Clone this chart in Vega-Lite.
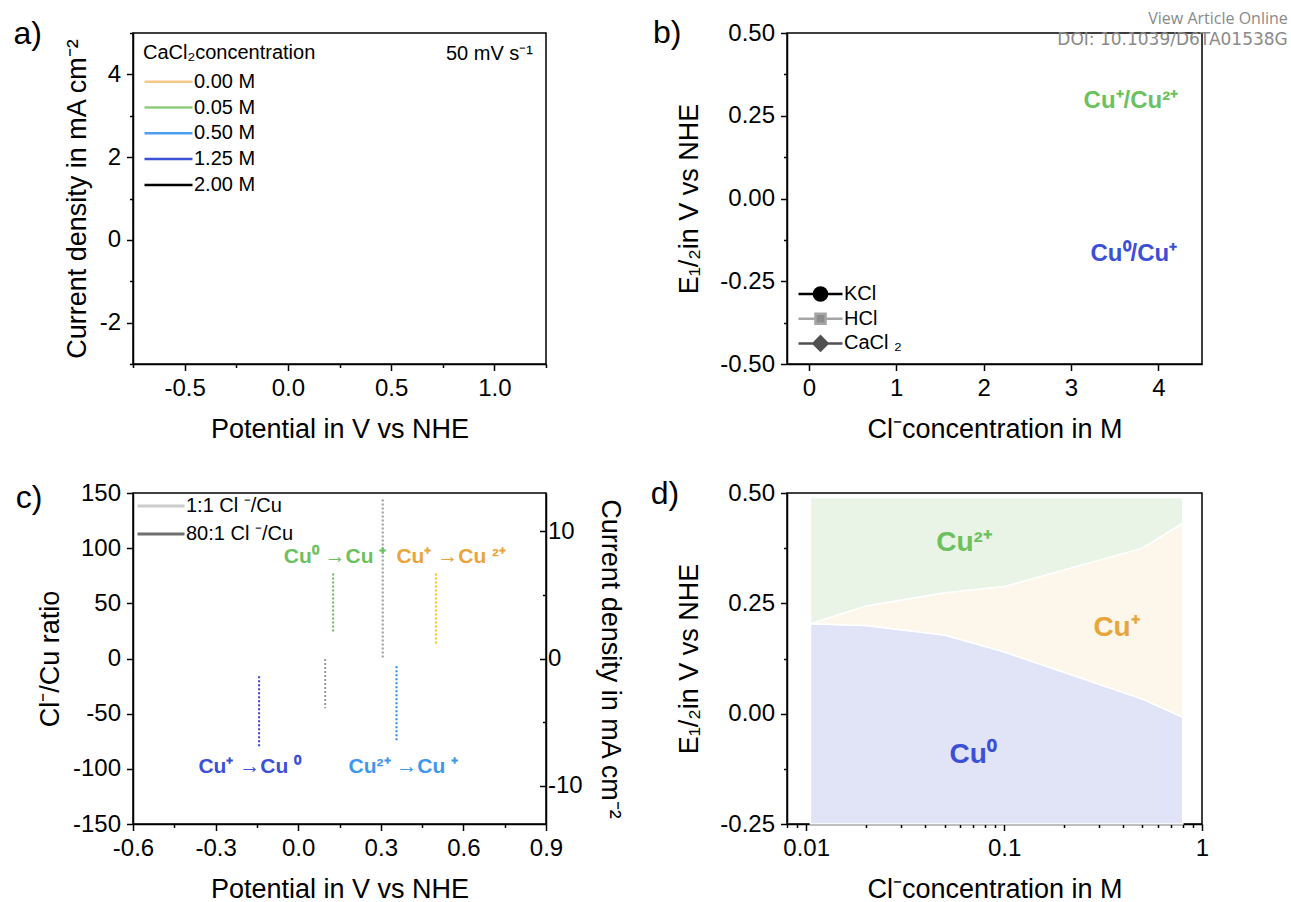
{
  "$schema": "https://vega.github.io/schema/vega-lite/v6.json",
  "background": "white",
  "padding": {"left": 12, "top": 10, "right": 2, "bottom": 2},
  "config": {
    "font": "Liberation Sans",
    "view": {"stroke": "black", "strokeWidth": 1.5},
    "axis": {
      "labelFont": "Liberation Sans", "labelFontSize": 24, "labelColor": "black",
      "titleFont": "Liberation Sans", "titleFontSize": 27, "titleFontWeight": "normal", "titleColor": "black",
      "domainColor": "black", "domainWidth": 1.5, "tickColor": "black", "tickWidth": 1.5,
      "grid": false, "labelFlush": false, "labelOverlap": false, "labelPadding": 6
    },
    "axisX": {"titlePadding": 16},
    "axisY": {"titlePadding": 8},
    "legend": {
      "labelFont": "Liberation Sans", "labelFontSize": 20, "labelColor": "black",
      "titleFont": "Liberation Sans", "titleFontSize": 20, "titleFontWeight": "normal", "titleColor": "black",
      "padding": 0, "labelOffset": 0
    }
  },
  "resolve": {
    "scale": {"color": "independent", "fill": "independent", "stroke": "independent", "shape": "independent"},
    "legend": {"color": "independent", "fill": "independent", "stroke": "independent", "shape": "independent"}
  },
  "columns": 2,
  "spacing": {"row": 129, "column": 241},
  "bounds": "flush",
  "align": "each",
  "concat": [
    {
      "width": 413, "height": 331,
      "layer": [
        {
          "data": {"values": []},
          "mark": {"type": "line", "strokeWidth": 2.5},
          "encoding": {
            "x": {"field": "potential", "type": "quantitative",
              "scale": {"domain": [-0.75, 1.25], "nice": false, "zero": false},
              "axis": {"title": "Potential in V vs NHE", "format": ".1f",
                "values": [-0.75, -0.5, -0.25, 0, 0.25, 0.5, 0.75, 1, 1.25],
                "labelExpr": "indexof([-0.5,0,0.5,1], datum.value) >= 0 ? replace(datum.label, '−', '-') : ''",
                "tickSize": {"condition": {"test": "indexof([-0.5,0,0.5,1], datum.value) >= 0", "value": 6.5}, "value": 3.5}}},
            "y": {"field": "current", "type": "quantitative",
              "scale": {"domain": [-3, 5], "nice": false, "zero": false},
              "axis": {"title": "Current density in mA cm⁻²", "format": "d",
                "values": [-3, -2, -1, 0, 1, 2, 3, 4, 5],
                "labelExpr": "indexof([-2,0,2,4], datum.value) >= 0 ? replace(datum.label, '−', '-') : ''",
                "tickSize": {"condition": {"test": "indexof([-2,0,2,4], datum.value) >= 0", "value": 6.5}, "value": 3.5}}},
            "color": {"field": "concentration", "type": "nominal",
              "scale": {"domain": ["0.00 M", "0.05 M", "0.50 M", "1.25 M", "2.00 M"],
                        "range": ["#f5c888", "#8fcd7e", "#4da0ef", "#3a50d5", "#000000"]},
              "legend": {"title": "CaCl₂concentration", "orient": "none", "legendX": 10, "legendY": 10,
                "direction": "vertical", "symbolType": "stroke", "symbolSize": 2304, "symbolStrokeWidth": 2.5,
                "clipHeight": 20, "rowPadding": 5.8, "titlePadding": 8.7, "labelOffset": 0}}
          }
        },
        {
          "data": {"values": [{}]},
          "mark": {"type": "text", "text": "50 mV s⁻¹", "align": "right", "baseline": "middle", "fontSize": 20, "color": "black"},
          "encoding": {"x": {"datum": 1.187}, "y": {"datum": 4.49}}
        },
        {
          "data": {"values": [{}]},
          "mark": {"type": "text", "text": "a)", "align": "left", "baseline": "middle", "fontSize": 32, "color": "black"},
          "encoding": {"x": {"datum": -1.3287}, "y": {"datum": 4.976}}
        }
      ]
    },
    {
      "width": 415, "height": 331,
      "layer": [
        {
          "data": {"values": []},
          "mark": {"type": "point", "opacity": 1, "strokeWidth": 2.5},
          "encoding": {
            "x": {"field": "chloride", "type": "quantitative",
              "scale": {"domain": [-0.25, 4.5], "nice": false, "zero": false},
              "axis": {"title": "Cl⁻concentration in M", "format": "d",
                "values": [0, 0.5, 1, 1.5, 2, 2.5, 3, 3.5, 4, 4.5],
                "labelExpr": "indexof([0,1,2,3,4], datum.value) >= 0 ? datum.label : ''",
                "tickSize": {"condition": {"test": "indexof([0,1,2,3,4], datum.value) >= 0", "value": 6.5}, "value": 3.5}}},
            "y": {"field": "E_half", "type": "quantitative",
              "scale": {"domain": [-0.5, 0.5], "nice": false, "zero": false},
              "axis": {"title": "E₁/₂in V vs NHE", "format": ".2f", "titlePadding": 16,
                "values": [-0.5, -0.375, -0.25, -0.125, 0, 0.125, 0.25, 0.375, 0.5],
                "labelExpr": "indexof([-0.5,-0.25,0,0.25,0.5], datum.value) >= 0 ? replace(datum.label, '−', '-') : ''",
                "tickSize": {"condition": {"test": "indexof([-0.5,-0.25,0,0.25,0.5], datum.value) >= 0", "value": 6.5}, "value": 3.5}}},
            "shape": {"field": "electrolyte", "type": "nominal",
              "scale": {"domain": ["KCl", "HCl", "CaCl ₂"],
                "range": ["M-1,0H-0.3M0.3,0H1M0.3,0A0.3,0.3,0,1,1,-0.3,0A0.3,0.3,0,1,1,0.3,0Z",
                          "M-1,0H-0.23M0.23,0H1M-0.23,-0.23H0.23V0.23H-0.23Z",
                          "M-1,0H-0.32M0.32,0H1M0,-0.32L0.32,0L0,0.32L-0.32,0Z"]},
              "legend": {"title": null, "orient": "none", "legendX": 10, "legendY": 251, "direction": "vertical",
                "symbolSize": 1936, "symbolStrokeWidth": 2.5, "clipHeight": 20, "rowPadding": 4.7, "labelOffset": 0}},
            "fill": {"field": "electrolyte", "type": "nominal",
              "scale": {"domain": ["KCl", "HCl", "CaCl ₂"], "range": ["#000000", "#8c8c8c", "#505050"]},
              "legend": {"title": null, "orient": "none", "legendX": 10, "legendY": 251, "direction": "vertical",
                "symbolSize": 1936, "symbolStrokeWidth": 2.5, "clipHeight": 20, "rowPadding": 4.7, "labelOffset": 0}},
            "stroke": {"field": "electrolyte", "type": "nominal",
              "scale": {"domain": ["KCl", "HCl", "CaCl ₂"], "range": ["#000000", "#a6a6a6", "#505050"]},
              "legend": {"title": null, "orient": "none", "legendX": 10, "legendY": 251, "direction": "vertical",
                "symbolSize": 1936, "symbolStrokeWidth": 2.5, "clipHeight": 20, "rowPadding": 4.7, "labelOffset": 0}}
          }
        },
        {
          "data": {"values": [
            {"couple": "Cu⁺/Cu²⁺", "chloride": 3.686, "E_half": 0.295},
            {"couple": "Cu⁰/Cu⁺", "chloride": 3.72, "E_half": -0.167}
          ]},
          "mark": {"type": "text", "fontSize": 24, "fontWeight": "bold", "align": "center", "baseline": "middle"},
          "encoding": {
            "x": {"field": "chloride", "type": "quantitative"},
            "y": {"field": "E_half", "type": "quantitative"},
            "text": {"field": "couple"},
            "color": {"field": "couple", "type": "nominal",
              "scale": {"domain": ["Cu⁺/Cu²⁺", "Cu⁰/Cu⁺"], "range": ["#6cc15f", "#3b4fd7"]}, "legend": null}
          }
        },
        {
          "data": {"values": [{}]},
          "mark": {"type": "text", "text": "b)", "align": "left", "baseline": "middle", "fontSize": 32, "color": "black"},
          "encoding": {"x": {"datum": -1.783}, "y": {"datum": 0.5}}
        },
        {
          "data": {"values": [{}]},
          "mark": {"type": "text", "text": "View Article Online", "align": "right", "baseline": "middle", "fontSize": 16, "font": "Open Sans", "color": "#8a8a8a"},
          "encoding": {"x": {"datum": 5.482}, "y": {"datum": 0.542}}
        },
        {
          "data": {"values": [{}]},
          "mark": {"type": "text", "text": "DOI: 10.1039/D6TA01538G", "align": "right", "baseline": "middle", "fontSize": 17, "font": "DejaVu Sans", "color": "#8a8a8a"},
          "encoding": {"x": {"datum": 5.482}, "y": {"datum": 0.479}}
        }
      ]
    },
    {
      "width": 413, "height": 331,
      "resolve": {"scale": {"y": "independent"}},
      "layer": [
        {
          "layer": [
            {
              "data": {"values": [
                {"peak": "Cu⁺ → Cu⁰", "potential": -0.142, "upper": -16, "lower": -80},
                {"peak": "1:1 reduction", "potential": 0.098, "upper": -0.5, "lower": -45},
                {"peak": "Cu⁰ → Cu⁺", "potential": 0.127, "upper": 77, "lower": 24},
                {"peak": "1:1 oxidation", "potential": 0.307, "upper": 144, "lower": 1},
                {"peak": "Cu²⁺ → Cu⁺", "potential": 0.357, "upper": -7, "lower": -76},
                {"peak": "Cu⁺ → Cu²⁺", "potential": 0.5, "upper": 77, "lower": 12}
              ]},
              "mark": {"type": "rule", "strokeDash": [2, 2], "strokeWidth": 2},
              "encoding": {
                "x": {"field": "potential", "type": "quantitative",
                  "scale": {"domain": [-0.6, 0.9], "nice": false, "zero": false},
                  "axis": {"title": "Potential in V vs NHE", "format": ".1f",
                    "values": [-0.6, -0.45, -0.3, -0.15, 0, 0.15, 0.3, 0.45, 0.6, 0.75, 0.9],
                    "labelExpr": "indexof([-0.6,-0.3,0,0.3,0.6,0.9], datum.value) >= 0 ? replace(datum.label, '−', '-') : ''",
                    "tickSize": {"condition": {"test": "indexof([-0.6,-0.3,0,0.3,0.6,0.9], datum.value) >= 0", "value": 6.5}, "value": 3.5}}},
                "y": {"field": "upper", "type": "quantitative",
                  "scale": {"domain": [-150, 150], "nice": false, "zero": false},
                  "axis": {"title": "Cl⁻/Cu ratio", "format": "d",
                    "values": [-150, -125, -100, -75, -50, -25, 0, 25, 50, 75, 100, 125, 150],
                    "labelExpr": "indexof([-150,-100,-50,0,50,100,150], datum.value) >= 0 ? replace(datum.label, '−', '-') : ''",
                    "tickSize": {"condition": {"test": "indexof([-150,-100,-50,0,50,100,150], datum.value) >= 0", "value": 6.5}, "value": 3.5}}},
                "y2": {"field": "lower"},
                "stroke": {"field": "peak", "type": "nominal",
                  "scale": {"domain": ["Cu⁺ → Cu⁰", "1:1 reduction", "Cu⁰ → Cu⁺", "1:1 oxidation", "Cu²⁺ → Cu⁺", "Cu⁺ → Cu²⁺"],
                            "range": ["#3142d8", "#9a9a9a", "#5dbb4d", "#9a9a9a", "#2f8de8", "#f5c400"]},
                  "legend": null}
              }
            },
            {
              "data": {"values": [
                {"transition": "Cu⁰ →Cu ⁺", "potential": 0.134, "upper": 92},
                {"transition": "Cu⁺ →Cu ²⁺", "potential": 0.556, "upper": 92},
                {"transition": "Cu⁺ →Cu ⁰", "potential": -0.176, "upper": -98},
                {"transition": "Cu²⁺ →Cu ⁺", "potential": 0.382, "upper": -98}
              ]},
              "mark": {"type": "text", "fontSize": 21, "fontWeight": "bold", "align": "center", "baseline": "middle"},
              "encoding": {
                "x": {"field": "potential", "type": "quantitative"},
                "y": {"field": "upper", "type": "quantitative"},
                "text": {"field": "transition"},
                "fill": {"field": "transition", "type": "nominal",
                  "scale": {"domain": ["Cu⁰ →Cu ⁺", "Cu⁺ →Cu ²⁺", "Cu⁺ →Cu ⁰", "Cu²⁺ →Cu ⁺"],
                            "range": ["#6cc15f", "#eba438", "#3b4fd7", "#3d97ee"]},
                  "legend": null}
              }
            },
            {
              "data": {"values": [{}]},
              "mark": {"type": "text", "text": "c)", "align": "left", "baseline": "middle", "fontSize": 32, "color": "black"},
              "encoding": {"x": {"datum": -1.0257}, "y": {"datum": 145.5}}
            }
          ]
        },
        {
          "data": {"values": []},
          "mark": {"type": "line", "strokeWidth": 3},
          "encoding": {
            "x": {"field": "potential", "type": "quantitative"},
            "y": {"field": "current", "type": "quantitative",
              "scale": {"domain": [-13, 13], "nice": false, "zero": false},
              "axis": {"title": "Current density in mA cm⁻²", "orient": "right", "format": "d", "labelPadding": 8, "titlePadding": 13,
                "values": [-10, -5, 0, 5, 10],
                "labelExpr": "indexof([-10,0,10], datum.value) >= 0 ? replace(datum.label, '−', '-') : ''",
                "tickSize": {"condition": {"test": "indexof([-10,0,10], datum.value) >= 0", "value": -6.5}, "value": -3.5}}},
            "color": {"field": "ratio", "type": "nominal",
              "scale": {"domain": ["1:1 Cl ⁻/Cu", "80:1 Cl ⁻/Cu"], "range": ["#cccccc", "#6f6f6f"]},
              "legend": {"title": null, "orient": "none", "legendX": 3, "legendY": 3, "direction": "vertical",
                "symbolType": "stroke", "symbolSize": 2209, "symbolStrokeWidth": 3, "clipHeight": 20, "rowPadding": 8, "labelOffset": 0}}
          }
        }
      ]
    },
    {
      "width": 415, "height": 331,
      "layer": [
        {
          "data": {"values": [
            {"chloride": 0.0105, "lower": 0.204, "upper": 0.204},
            {"chloride": 0.02, "lower": 0.2, "upper": 0.244},
            {"chloride": 0.05, "lower": 0.178, "upper": 0.274},
            {"chloride": 0.1, "lower": 0.14, "upper": 0.288},
            {"chloride": 0.5, "lower": 0.033, "upper": 0.375},
            {"chloride": 0.8, "lower": -0.008, "upper": 0.432}
          ]},
          "layer": [
            {
              "mark": {"type": "area", "color": "#e1e4f7", "stroke": "white", "strokeWidth": 1.5},
              "encoding": {
                "x": {"field": "chloride", "type": "quantitative",
                  "scale": {"type": "log", "domain": [0.008, 1], "nice": false},
                  "axis": {"title": "Cl⁻concentration in M",
                    "values": [0.008, 0.009, 0.01, 0.02, 0.03, 0.04, 0.05, 0.06, 0.07, 0.08, 0.09, 0.1, 0.2, 0.3, 0.4, 0.5, 0.6, 0.7, 0.8, 0.9, 1],
                    "labelExpr": "datum.value == 0.01 ? '0.01' : datum.value == 0.1 ? '0.1' : datum.value == 1 ? '1' : ''",
                    "tickSize": {"condition": {"test": "indexof([0.01,0.1,1], datum.value) >= 0", "value": 6.5}, "value": 3.5}}},
                "y": {"field": "lower", "type": "quantitative",
                  "scale": {"domain": [-0.25, 0.5], "nice": false, "zero": false},
                  "axis": {"title": "E₁/₂in V vs NHE", "format": ".2f", "titlePadding": 16,
                    "values": [-0.25, -0.125, 0, 0.125, 0.25, 0.375, 0.5],
                    "labelExpr": "indexof([-0.25,0,0.25,0.5], datum.value) >= 0 ? replace(datum.label, '−', '-') : ''",
                    "tickSize": {"condition": {"test": "indexof([-0.25,0,0.25,0.5], datum.value) >= 0", "value": 6.5}, "value": 3.5}}},
                "y2": {"datum": -0.25}
              }
            },
            {
              "mark": {"type": "area", "color": "#fdf6ea", "stroke": "white", "strokeWidth": 1.5},
              "encoding": {
                "x": {"field": "chloride", "type": "quantitative"},
                "y": {"field": "upper", "type": "quantitative"},
                "y2": {"field": "lower"}
              }
            },
            {
              "mark": {"type": "area", "color": "#e9f4e6", "stroke": "white", "strokeWidth": 1.5},
              "encoding": {
                "x": {"field": "chloride", "type": "quantitative"},
                "y": {"field": "upper", "type": "quantitative"},
                "y2": {"datum": 0.49}
              }
            }
          ]
        },
        {
          "data": {"values": [
            {"species": "Cu²⁺", "chloride": 0.0628, "potential": 0.387},
            {"species": "Cu⁺", "chloride": 0.37, "potential": 0.194},
            {"species": "Cu⁰", "chloride": 0.0698, "potential": -0.094}
          ]},
          "mark": {"type": "text", "fontSize": 28, "fontWeight": "bold", "align": "center", "baseline": "middle"},
          "encoding": {
            "x": {"field": "chloride", "type": "quantitative"},
            "y": {"field": "potential", "type": "quantitative"},
            "text": {"field": "species"},
            "color": {"field": "species", "type": "nominal",
              "scale": {"domain": ["Cu²⁺", "Cu⁺", "Cu⁰"], "range": ["#6cc15f", "#e9a53a", "#3b4fd7"]}, "legend": null}
          }
        },
        {
          "data": {"values": [{}]},
          "mark": {"type": "text", "text": "d)", "align": "left", "baseline": "middle", "fontSize": 32, "color": "black"},
          "encoding": {"x": {"datum": 0.001637}, "y": {"datum": 0.4977}}
        }
      ]
    }
  ]
}
